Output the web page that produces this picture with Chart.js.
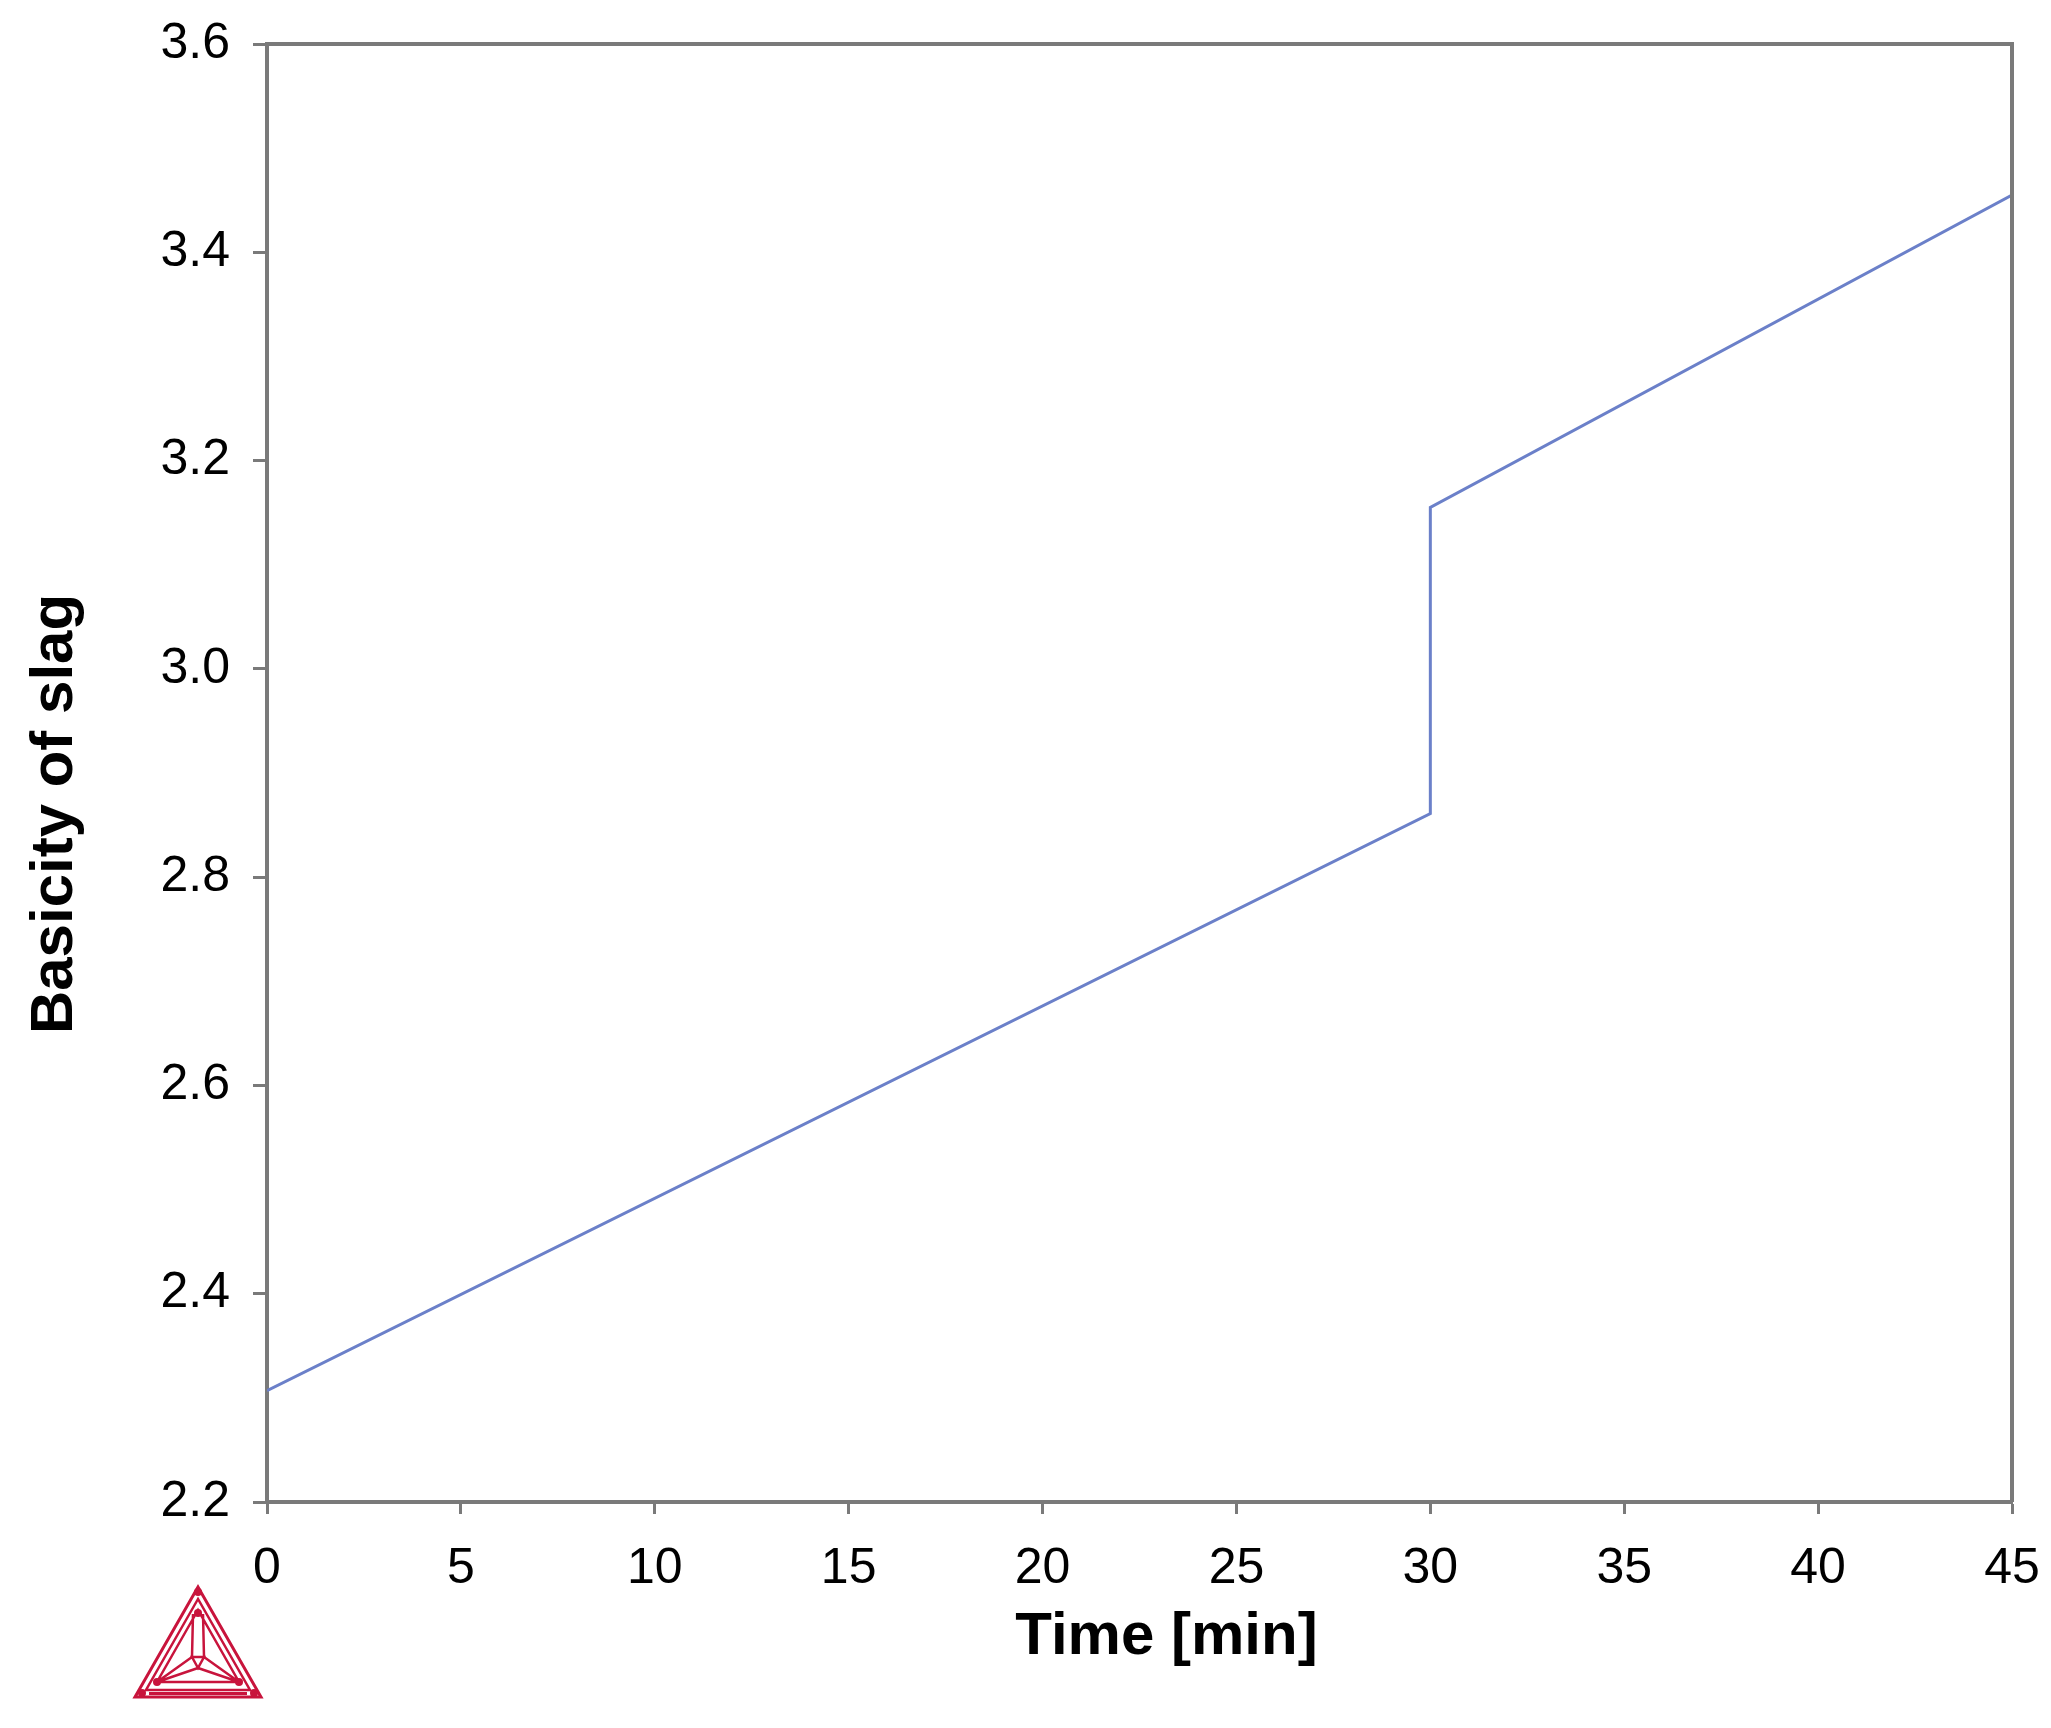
<!DOCTYPE html>
<html>
<head>
<meta charset="utf-8">
<script src="https://cdn.jsdelivr.net/npm/chart.js@4.4.1/dist/chart.umd.min.js"></script>
<style>
  html, body { margin: 0; padding: 0; background: #ffffff; }
  #wrap { width: 2051px; height: 1728px; }
</style>
</head>
<body>
<div id="wrap"><canvas id="c" width="2051" height="1728"></canvas></div>
<script>
// ---- data ----
const timeMin = [0, 30, 30, 45];
const basicity = [2.307, 2.861, 3.155, 3.455];
const xTickValues = [0, 5, 10, 15, 20, 25, 30, 35, 40, 45];
const yTickLabels = ['2.2', '2.4', '2.6', '2.8', '3.0', '3.2', '3.4', '3.6'];
const xTitle = 'Time [min]';
const yTitle = 'Basicity of slag';

const AXIS = '#7a7a7a';
const LINE = '#6b80c9';
const LOGO = '#c8143c';
const TITLE_FONT = 'bold 60px "Liberation Sans", Arial, sans-serif';

const framePlugin = {
  id: 'frame',
  afterDatasetsDraw(chart) {
    const {ctx, chartArea: a} = chart;
    ctx.save();
    ctx.strokeStyle = AXIS;
    ctx.lineWidth = 4;
    ctx.beginPath();
    ctx.moveTo(a.left, a.top);
    ctx.lineTo(a.right, a.top);
    ctx.lineTo(a.right, a.bottom);
    ctx.stroke();
    ctx.restore();
  }
};

// axis titles, placed relative to the plot area as in the original figure
const axisTitlePlugin = {
  id: 'axisTitles',
  afterDraw(chart) {
    const {ctx, chartArea: a} = chart;
    ctx.save();
    ctx.fillStyle = '#000000';
    ctx.font = TITLE_FONT;
    ctx.textAlign = 'center';
    ctx.textBaseline = 'middle';
    ctx.fillText(xTitle, (a.left + a.right) / 2 + 27, a.bottom + 135);
    ctx.translate(55, (a.top + a.bottom) / 2 + 41);
    ctx.rotate(-Math.PI / 2);
    ctx.fillText(yTitle, 0, 0);
    ctx.restore();
  }
};

// decorative Thermo-Calc style logo in the lower-left corner
const logoPlugin = {
  id: 'logo',
  afterDraw(chart) {
    const ctx = chart.ctx;
    const cx = 198, top = 1587, base = 1697, half = 63;
    ctx.save();
    ctx.strokeStyle = LOGO;
    ctx.fillStyle = LOGO;
    ctx.lineJoin = 'miter';
    const tri = (ax, ay, lx, ly, rx, ry, w) => {
      ctx.lineWidth = w;
      ctx.beginPath();
      ctx.moveTo(ax, ay); ctx.lineTo(lx, ly); ctx.lineTo(rx, ry); ctx.closePath();
      ctx.stroke();
    };
    // outer double triangle
    tri(cx, top, cx - half, base, cx + half, base, 3);
    tri(cx, top + 12, cx - half + 11, base - 7, cx + half - 11, base - 7, 2.5);
    // base bar
    ctx.lineWidth = 3;
    ctx.beginPath();
    ctx.moveTo(cx - half + 14, base - 3.5); ctx.lineTo(cx + half - 14, base - 3.5);
    ctx.stroke();
    // inner vertices
    const ia = [cx, 1610], il = [157, 1682], ir = [239, 1682];
    const c = [cx, 1668];
    const s1 = [cx - 6, 1657], s2 = [cx + 6, 1657];
    ctx.lineWidth = 2.5;
    ctx.beginPath();
    ctx.moveTo(ia[0] - 5, ia[1] + 4); ctx.lineTo(s1[0], s1[1]);
    ctx.moveTo(ia[0] + 5, ia[1] + 4); ctx.lineTo(s2[0], s2[1]);
    ctx.moveTo(s1[0], s1[1]); ctx.lineTo(s2[0], s2[1]); ctx.lineTo(c[0], c[1]); ctx.closePath();
    ctx.moveTo(s1[0], s1[1]); ctx.lineTo(il[0], il[1]);
    ctx.moveTo(c[0], c[1]); ctx.lineTo(il[0], il[1]);
    ctx.moveTo(s2[0], s2[1]); ctx.lineTo(ir[0], ir[1]);
    ctx.moveTo(c[0], c[1]); ctx.lineTo(ir[0], ir[1]);
    ctx.moveTo(ia[0], ia[1]); ctx.lineTo(il[0], il[1]); ctx.lineTo(ir[0], ir[1]); ctx.closePath();
    ctx.stroke();
    [[cx, top + 5], [cx, 1613], [cx - half + 7, base - 4], [cx + half - 7, base - 4], [il[0], il[1]], [ir[0], ir[1]]].forEach(p => {
      ctx.beginPath(); ctx.arc(p[0], p[1], 4, 0, Math.PI * 2); ctx.fill();
    });
    ctx.restore();
  }
};

const points = timeMin.map((t, i) => ({x: t, y: basicity[i]}));

new Chart(document.getElementById('c'), {
  type: 'line',
  data: {
    datasets: [{
      data: points,
      borderColor: LINE,
      borderWidth: 3,
      pointRadius: 0,
      tension: 0,
      fill: false
    }]
  },
  options: {
    responsive: false,
    animation: false,
    devicePixelRatio: 1,
    layout: { padding: { top: 44, right: 39, left: 0, bottom: 0 } },
    plugins: { legend: { display: false }, tooltip: { enabled: false } },
    scales: {
      x: {
        type: 'linear',
        min: 0, max: 45,
        afterBuildTicks(scale) { scale.ticks = xTickValues.map(v => ({value: v})); },
        afterFit(scale) {
          scale.height = 1728 - 1502;
          scale.paddingLeft = 0; scale.paddingRight = 0;
        },
        ticks: {
          font: { family: 'Liberation Sans', size: 50 },
          color: '#000000',
          padding: 25,
          callback: (v) => String(v)
        },
        grid: { display: true, drawOnChartArea: false, drawTicks: true, tickLength: 12, tickWidth: 3, color: AXIS },
        border: { display: true, color: AXIS, width: 4 },
        title: { display: false, text: xTitle }
      },
      y: {
        type: 'linear',
        min: 2.2, max: 3.6,
        afterBuildTicks(scale) { scale.ticks = yTickLabels.map(s => ({value: parseFloat(s)})); },
        afterFit(scale) {
          scale.width = 267;
          scale.paddingTop = 0; scale.paddingBottom = 0;
        },
        ticks: {
          font: { family: 'Liberation Sans', size: 50 },
          color: '#000000',
          padding: 23,
          callback: (v) => yTickLabels.find(s => Math.abs(parseFloat(s) - v) < 1e-9) || ''
        },
        grid: { display: true, drawOnChartArea: false, drawTicks: true, tickLength: 14, tickWidth: 3, color: AXIS },
        border: { display: true, color: AXIS, width: 4 },
        title: { display: false, text: yTitle }
      }
    }
  },
  plugins: [framePlugin, axisTitlePlugin, logoPlugin]
});
</script>
</body>
</html>
